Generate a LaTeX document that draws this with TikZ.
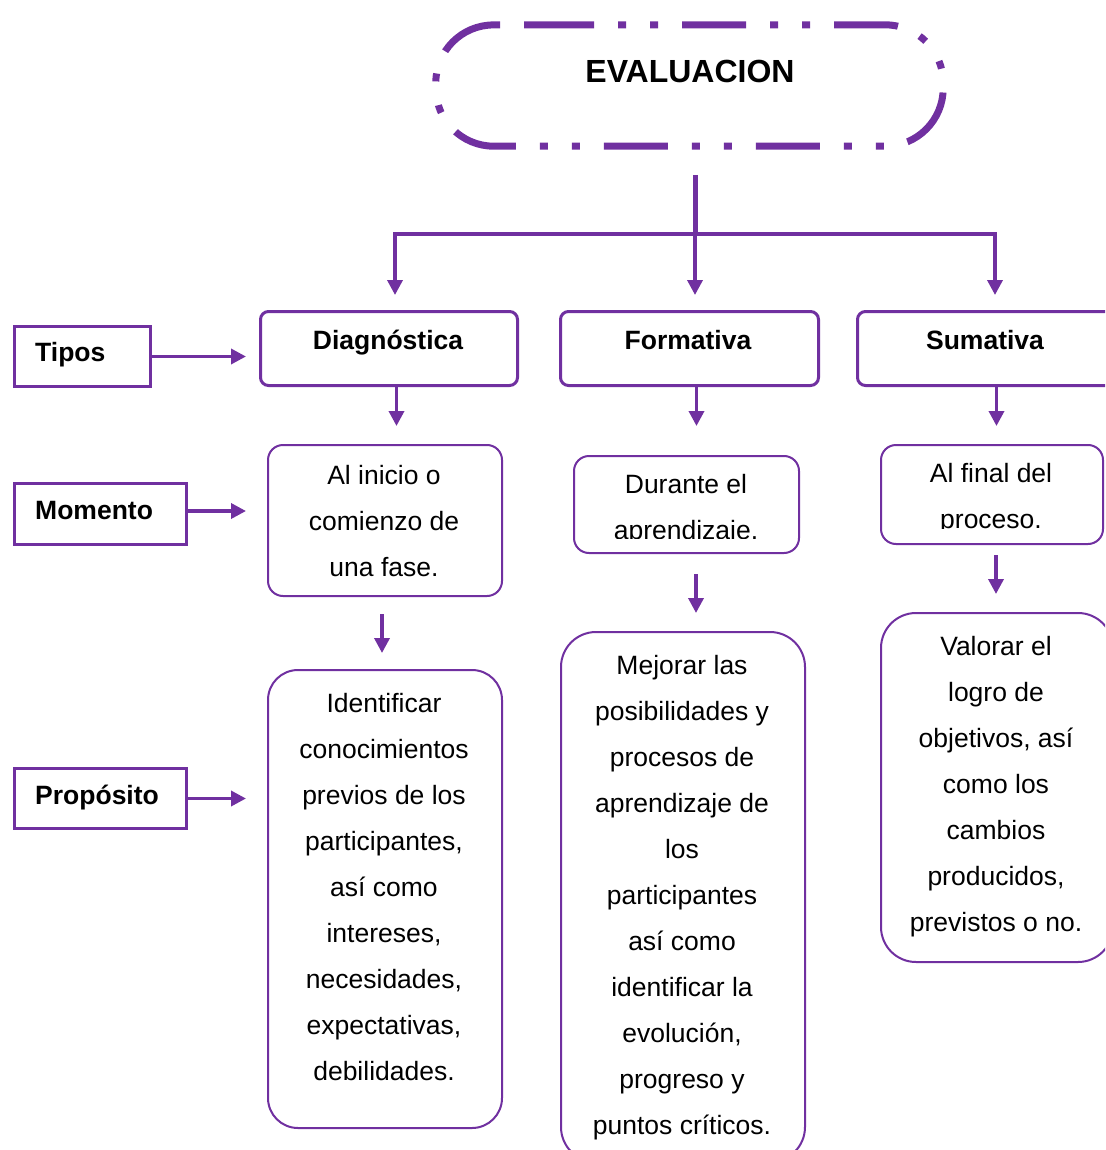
\documentclass[tikz,border=0pt]{standalone}
\usepackage{fontspec}
\setmainfont{Liberation Sans}
\usetikzlibrary{arrows.meta}
\definecolor{pur}{HTML}{7030A0}
\begin{document}
\begin{tikzpicture}[x=1pt,y=-1pt,
  txt/.style={inner sep=0pt, align=center, anchor=north, font=\fontsize{26.5}{46}\selectfont, text=black},
  btxt/.style={inner sep=0pt, font=\bfseries\fontsize{26.5}{32}\selectfont, anchor=base, text=black},
  sqbox/.style={draw=pur, line width=3pt, anchor=north west, inner sep=0pt},
  hbox/.style={draw=pur, line width=3pt, rounded corners=8pt, anchor=north west, inner sep=0pt},
  mbox/.style={draw=pur, line width=2pt, rounded corners=15pt, anchor=north west, inner sep=0pt},
  pbox/.style={draw=pur, line width=2pt, rounded corners=30pt, anchor=north west, inner sep=0pt},
  arr/.style={draw=pur, line width=3.5pt, -{Triangle[length=15pt,width=15pt]}},
  evline/.style={draw=pur, line width=7pt, dash pattern=on 64pt off 24pt on 8pt off 24pt on 8pt off 24pt, rounded corners=58pt},
]
\useasboundingbox (0,0) rectangle (1105,1150);
\clip (0,0) rectangle (1105,1150);

% title
\node[minimum width=507pt, minimum height=121pt, inner sep=0pt] (ev) at (689.5,85.5) {};
\coordinate (evs) at (530,25);
\draw[evline] (evs) -- (ev.north east) -- (ev.south east) -- (ev.south west) -- (ev.north west) -- (evs);
\node[inner sep=0pt, anchor=base, font=\bfseries\fontsize{32}{36}\selectfont] (evT) at (690,82.5) {EVALUACION};

% row 1 boxes
\node[hbox, minimum width=257pt, minimum height=74pt] (diag) at (259,310) {};
\node[hbox, minimum width=258pt, minimum height=74pt] (form) at (559,310) {};
\node[hbox, minimum width=260pt, minimum height=74pt] (sum) at (856,310) {};
\node[btxt] (diagT) at (388,349) {Diagnóstica};
\node[btxt] (formT) at (688,349) {Formativa};
\node[btxt] (sumT) at (985,349) {Sumativa};

% tree connectors
\coordinate (top) at (695,175);
\coordinate (split) at (695,234);
\coordinate (jl) at (395,234);
\coordinate (jr) at (995,234);
\draw[pur, line width=5pt] (top) -- (split);
\draw[pur, line width=4pt, line cap=rect] (jl) -- (jr);
\draw[arr] (jl) -- ([yshift=15pt]jl |- diag.north);
\draw[arr] (split) -- ([yshift=15pt]split |- form.north);
\draw[arr] (jr) -- ([yshift=15pt]jr |- sum.north);

% left labels
\node[sqbox, minimum width=136pt, minimum height=60pt] (tipos) at (13,325) {};
\node[sqbox, minimum width=172pt, minimum height=61pt] (mom) at (13,482) {};
\node[sqbox, minimum width=172pt, minimum height=60pt] (prop) at (13,767) {};
\node[btxt, anchor=base west] (tiposT) at (35,361) {Tipos};
\node[btxt, anchor=base west] (momT) at (35,519) {Momento};
\node[btxt, anchor=base west] (propT) at (35,804) {Propósito};
\draw[arr] (tipos.east) -- ([xshift=-13pt]tipos.east -| diag.west);
\draw[arr] ([yshift=3pt]mom.east) -- ([xshift=-13pt,yshift=3pt]mom.east -| diag.west);
\draw[arr] (prop.east) -- ([xshift=-13pt]prop.east -| diag.west);

% row 2 boxes
\node[mbox, minimum width=234pt, minimum height=151pt] (inicio) at (267,444) {};
\node[mbox, minimum width=225pt, minimum height=97pt] (durante) at (573,455) {};
\node[mbox, minimum width=222pt, minimum height=99pt] (final) at (880,444) {};
\node[txt] (inicioT) at (384,460) {\rule{0pt}{24pt}Al inicio o\\comienzo de\\una fase.};
\begin{scope}
\clip (573,455) rectangle (798,538);
\node[txt] (duranteT) at (686,469) {\rule{0pt}{24pt}Durante el\\aprendizaje.};
\end{scope}
\begin{scope}
\clip (880,444) rectangle (1102,528);
\node[txt] (finalT) at (991,458) {\rule{0pt}{24pt}Al final del\\proceso.};
\end{scope}

\draw[arr] ([xshift=7.5pt]diag.south) -- ([xshift=7.5pt,yshift=18pt]diag.south |- inicio.north);
\draw[arr] ([xshift=7pt]form.south) -- ([xshift=7pt,yshift=29pt]form.south |- durante.north);
\draw[arr] ([xshift=9pt]sum.south) -- ([xshift=9pt,yshift=18pt]sum.south |- final.north);

% row 3 boxes
\node[pbox, minimum width=234pt, minimum height=458pt] (ipurp) at (267,669) {};
\node[pbox, rounded corners=35pt, minimum width=244pt, minimum height=530pt] (fpurp) at (560,631) {};
\node[pbox, rounded corners=35pt, minimum width=232pt, minimum height=349pt] (spurp) at (880,612) {};
\node[txt] (ipurpT) at (384,688) {\rule{0pt}{24pt}Identificar\\conocimientos\\previos de los\\participantes,\\así como\\intereses,\\necesidades,\\expectativas,\\debilidades.};
\node[txt] (fpurpT) at (682,650) {\rule{0pt}{24pt}Mejorar las\\posibilidades y\\procesos de\\aprendizaje de\\los\\participantes\\así como\\identificar la\\evolución,\\progreso y\\puntos críticos.};
\node[txt] (spurpT) at (996,631) {\rule{0pt}{24pt}Valorar el\\logro de\\objetivos, así\\como los\\cambios\\producidos,\\previstos o no.};

\draw[arr] ([xshift=-3pt,yshift=-17pt]inicio.south) -- ([xshift=-3pt,yshift=16pt]inicio.south |- ipurp.north);
\draw[arr] ([xshift=9.5pt,yshift=-20pt]durante.south) -- ([xshift=9.5pt,yshift=18pt]durante.south |- fpurp.north);
\draw[arr] ([xshift=4pt,yshift=-10pt]final.south) -- ([xshift=4pt,yshift=18pt]final.south |- spurp.north);
\end{tikzpicture}
\end{document}
